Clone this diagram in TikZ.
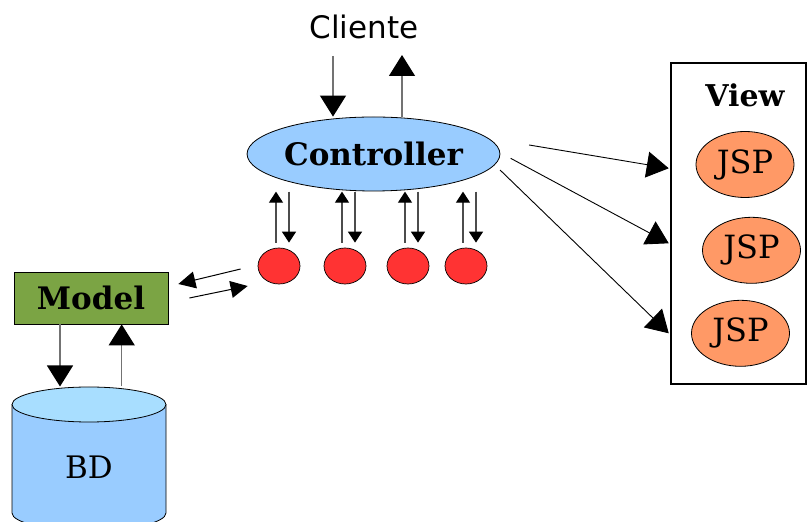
\documentclass[tikz,border=0pt]{standalone}
\usepackage{fontspec}
\setmainfont{DejaVu Serif}
\newfontfamily\clientfont{DejaVu Sans}
\usetikzlibrary{arrows.meta, shapes.geometric, positioning}

\definecolor{ctlblue}{HTML}{99CCFF}
\definecolor{bdlight}{HTML}{A8DEFF}
\definecolor{ballred}{HTML}{FF3333}
\definecolor{jsporange}{HTML}{FF9966}
\definecolor{modelgreen}{HTML}{7BA444}

\begin{document}
\begin{tikzpicture}[
    x=1pt, y=1pt,
    bigfont/.style={font=\fontsize{31}{37}\selectfont},
    ctlnode/.style={
        ellipse,
        draw,
        fill=ctlblue,
        line width=0.8pt,
        minimum width=247pt,
        minimum height=74pt,
        inner sep=0pt,
        font=\fontsize{31}{37}\selectfont\bfseries
    },
    redball/.style={ellipse, draw, fill=ballred, line width=0.7pt,
        minimum width=42pt, minimum height=36pt, inner sep=0pt},
    modelbox/.style={draw, fill=modelgreen, line width=0.8pt,
        minimum width=154pt, minimum height=52pt, inner sep=0pt,
        font=\fontsize{31}{37}\selectfont\bfseries},
    viewbox/.style={draw, line width=2.5pt, minimum width=135pt,
        minimum height=321pt, inner sep=0pt},
    jspnode/.style={ellipse, draw, fill=jsporange, line width=0.8pt,
        minimum width=98pt, minimum height=66pt, inner sep=0pt,
        font=\fontsize{32}{38}\selectfont},
    bigtip/.style={-{Triangle[length=21pt, width=26pt, color=black]},
        draw=black!55, line width=1.3pt},
    smalltip/.style={-{Triangle[length=11pt, width=14pt, color=black]},
        draw=black!70, line width=1.2pt},
    midtip/.style={-{Triangle[length=17pt, width=17pt, color=black]},
        draw=black, line width=1pt},
    viewtip/.style={-{Triangle[length=22pt, width=26pt, color=black]},
        draw=black, line width=0.9pt}
]
\useasboundingbox (0,0) rectangle (807,522);

%% ── Controller and client ────────────────────────────────────────────────
\node[ctlnode] (ctl) at (373.5,368) {Controller};
\node[font=\fontsize{31}{37}\clientfont] (cli) at (364,495) {Cliente};
\coordinate (cin) at (333,466);
\coordinate (cout) at (402,467);
\draw[bigtip] (cin) -- (cin |- ctl.north);
\draw[bigtip] (cout |- ctl.north) -- (cout);

%% ── Helper objects below the controller ──────────────────────────────────
\foreach \i/\x in {1/279, 2/345, 3/408, 4/466} {
    \node[redball] (p\i) at (\x,256) {};
    \draw[smalltip] ([xshift=-3pt, yshift=5pt]p\i.north)
        -- ([xshift=-3pt, yshift=56pt]p\i.north);
    \draw[smalltip] ([xshift=10pt, yshift=56pt]p\i.north)
        -- ([xshift=10pt, yshift=5pt]p\i.north);
}

%% ── Model ────────────────────────────────────────────────────────────────
\node[modelbox] (model) at (91,224) {Model};
\draw[midtip] ([xshift=-17pt, yshift=-3pt]p1.west)
    -- ([xshift=10pt, yshift=14pt]model.east);
\draw[midtip] ([xshift=21pt]model.east)
    -- ([xshift=-10pt, yshift=-20pt]p1.west);

%% ── BD (database cylinder) ───────────────────────────────────────────────
\fill[ctlblue] (12,117.5) -- (12,9)
    arc[start angle=180, end angle=360, x radius=77, y radius=17.5]
    -- (166,117.5) -- cycle;
\draw[line width=0.8pt] (12,117.5) -- (12,9)
    arc[start angle=180, end angle=360, x radius=77, y radius=17.5]
    -- (166,117.5);
\draw[line width=0.8pt, fill=bdlight] (89,117.5)
    ellipse[x radius=77, y radius=17.5];
\node[bigfont] (bd) at (89,55) {BD};
\coordinate (bdtop) at (89,135.5);
\draw[bigtip] ([xshift=-31pt]model.south) -- ([xshift=-29pt]bdtop);
\draw[bigtip] ([xshift=32.7pt]bdtop) -- ([xshift=30.7pt]model.south);

%% ── View ─────────────────────────────────────────────────────────────────
\node[viewbox] (view) at (738.5,298.5) {};
\node[font=\fontsize{30}{36}\selectfont\bfseries] (vlabel) at (745,427) {View};
\node[jspnode] (jsp1) at (745,357.5) {JSP};
\node[jspnode] (jsp2) at (751.5,271.7) {JSP};
\node[jspnode] (jsp3) at (740.5,188.7) {JSP};

\draw[viewtip] ([xshift=28.7pt, yshift=9pt]ctl.east)
    -- ([xshift=-1pt, yshift=55.2pt]view.west);
\draw[viewtip] ([xshift=10.3pt, yshift=-4.3pt]ctl.east)
    -- ([xshift=-1pt, yshift=-19.8pt]view.west);
\draw[viewtip] ([xshift=-0.3pt, yshift=-16pt]ctl.east)
    -- ([xshift=-1pt, yshift=-109.8pt]view.west);

\end{tikzpicture}
\end{document}
